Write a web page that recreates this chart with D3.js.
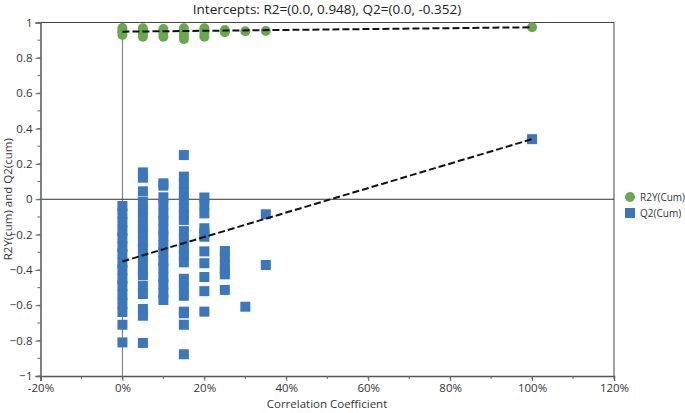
<!DOCTYPE html>
<html><head><meta charset="utf-8">
<script src="https://cdn.jsdelivr.net/npm/d3@7"></script>
<style>body{margin:0;background:#fff}svg{display:block}text{font-family:"Open Sans",sans-serif}</style>
</head><body>
<script>
const title = "Intercepts: R2=(0.0, 0.948), Q2=(0.0, -0.352)";
const r2X = [0,0,0,0, 0.05,0.05,0.05,0.05, 0.10,0.10,0.10, 0.15,0.15,0.15,0.15, 0.20,0.20,0.20, 0.25,0.25, 0.30, 0.35, 1.00];
const r2Y = [0.929,0.945,0.955,0.969, 0.92,0.935,0.95,0.967, 0.92,0.94,0.963, 0.906,0.925,0.945,0.967, 0.92,0.94,0.967, 0.945,0.957, 0.95, 0.952, 0.973];
const q2X0 = [-0.038,-0.08,-0.13,-0.18,-0.22,-0.27,-0.31,-0.36,-0.40,-0.45,-0.49,-0.54,-0.59,-0.638,-0.71,-0.81];
const q2X5 = [0.152,0.122,0.045,-0.014,-0.06,-0.10,-0.15,-0.19,-0.24,-0.28,-0.33,-0.37,-0.41,-0.43,-0.49,-0.536,-0.621,-0.659,-0.813];
const q2X10 = [0.09,0.077,0.011,-0.03,-0.08,-0.12,-0.17,-0.21,-0.26,-0.30,-0.35,-0.39,-0.44,-0.48,-0.53,-0.57];
const q2X15 = [0.25,0.128,0.085,0.04,-0.005,-0.05,-0.09,-0.117,-0.18,-0.23,-0.28,-0.32,-0.357,-0.45,-0.50,-0.546,-0.636,-0.645,-0.71,-0.877];
const q2X20 = [0.01,-0.03,-0.08,-0.164,-0.19,-0.212,-0.295,-0.362,-0.44,-0.52,-0.636];
const q2X25 = [-0.293,-0.33,-0.37,-0.40,-0.425,-0.513];
const q2X30 = [-0.608];
const q2X35 = [-0.085,-0.372];
const q2X100 = [0.34];
const q2Groups = [[0,q2X0],[0.05,q2X5],[0.10,q2X10],[0.15,q2X15],[0.20,q2X20],[0.25,q2X25],[0.30,q2X30],[0.35,q2X35],[1.00,q2X100]];
const r2Line = [[0,0.948],[1.0,0.973]];
const q2Line = [[0,-0.352],[1.0,0.34]];
const xTicks = [-0.2,0,0.2,0.4,0.6,0.8,1.0,1.2];
const yTicks = [-1,-0.8,-0.6,-0.4,-0.2,0,0.2,0.4,0.6,0.8,1];
const legendLabels = ["R2Y(Cum)","Q2(Cum)"];
const green = "#6aa84f", blue = "#3a77bc";

const W=685,H=413;
const svg=d3.select("body").append("svg").attr("width",W).attr("height",H);
const x=d3.scaleLinear().domain([-0.2,1.2]).range([40.5,614]);
const y=d3.scaleLinear().domain([-1,1]).range([376,22.5]);

svg.append("text").attr("x",327).attr("y",14).attr("text-anchor","middle").attr("font-size",13.5).attr("fill","#222").text(title);

// frame
svg.append("line").attr("x1",x(-0.2)).attr("x2",x(1.2)).attr("y1",y(1)).attr("y2",y(1)).attr("stroke","#444");
svg.append("line").attr("x1",x(1.2)).attr("x2",x(1.2)).attr("y1",y(1)).attr("y2",y(-1)).attr("stroke","#444");
svg.append("line").attr("x1",x(0)).attr("x2",x(0)).attr("y1",y(1)).attr("y2",y(-1)).attr("stroke","#777");
svg.append("line").attr("x1",x(-0.2)).attr("x2",x(1.2)).attr("y1",y(0)).attr("y2",y(0)).attr("stroke","#333");

// axes
const yMinor=d3.range(-1,1.001,0.1);
const yAx=svg.append("g").attr("transform",`translate(${x(-0.2)},0)`)
  .call(d3.axisLeft(y).tickValues(yTicks).tickFormat(d=>d3.format("")(+d.toFixed(1))).tickSize(5).tickPadding(3));
yAx.append("g").selectAll("line").data(yMinor).join("line").attr("x1",-3).attr("x2",0).attr("y1",d=>y(d)).attr("y2",d=>y(d)).attr("stroke","#666");
const xMinor=d3.range(-0.2,1.201,0.1);
const xAx=svg.append("g").attr("transform",`translate(0,${y(-1)})`)
  .call(d3.axisBottom(x).tickValues(xTicks).tickFormat(d=>Math.round(d*100)+"%").tickSize(5).tickPadding(3));
xAx.append("g").selectAll("line").data(xMinor).join("line").attr("y1",0).attr("y2",3).attr("x1",d=>x(d)).attr("x2",d=>x(d)).attr("stroke","#666");
[yAx,xAx].forEach(a=>{a.select(".domain").attr("stroke","#555").attr("stroke-width",1.5);a.selectAll(".tick line").attr("stroke","#666");a.selectAll("text").attr("font-size",11.5).attr("fill","#333").attr("font-family","Open Sans");});

svg.append("text").attr("transform",`translate(12,${y(0)}) rotate(-90)`).attr("text-anchor","middle").attr("font-size",11.5).attr("fill","#333").text("R2Y(cum) and Q2(cum)");
svg.append("text").attr("x",327).attr("y",408).attr("text-anchor","middle").attr("font-size",11.5).attr("fill","#333").text("Correlation Coefficient");

// points
const q2pts=[];q2Groups.forEach(([gx,vals])=>vals.forEach(v=>q2pts.push([gx,v])));
svg.append("g").selectAll("rect").data(q2pts).join("rect")
  .attr("x",d=>x(d[0])-5).attr("y",d=>y(d[1])-5).attr("width",10).attr("height",10).attr("fill",blue);
svg.append("g").selectAll("circle").data(r2X.map((d,i)=>[d,r2Y[i]])).join("circle")
  .attr("cx",d=>x(d[0])).attr("cy",d=>y(d[1])).attr("r",5).attr("fill",green);

const line=d3.line().x(d=>x(d[0])).y(d=>y(d[1]));
[r2Line,q2Line].forEach(l=>svg.append("path").attr("d",line(l)).attr("fill","none").attr("stroke","#111").attr("stroke-width",2).attr("stroke-dasharray","7,3"));

// legend
const lg=svg.append("g");
lg.append("circle").attr("cx",630).attr("cy",197).attr("r",5).attr("fill",green);
lg.append("rect").attr("x",625).attr("y",208).attr("width",10).attr("height",10).attr("fill",blue);
lg.selectAll("text").data(legendLabels).join("text").attr("x",640).attr("y",(d,i)=>201+i*16).attr("font-size",10).attr("fill","#333").text(d=>d);
</script>
</body></html>
